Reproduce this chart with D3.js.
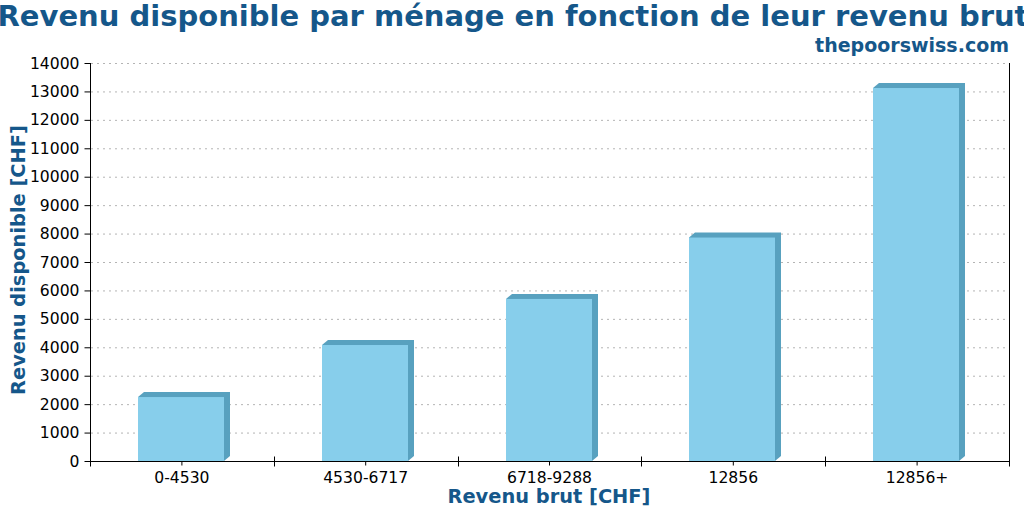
<!DOCTYPE html>
<html>
<head>
<meta charset="utf-8">
<script src="https://cdn.jsdelivr.net/npm/d3@7"></script>
<style>
  body { margin: 0; background: #fff; }
  svg { display: block; font-family: 'DejaVu Sans', sans-serif; }
  .grid line { stroke: #b4b4b4; stroke-dasharray: 2,4; }
  .axis text { font-family: 'DejaVu Sans', sans-serif; font-size: 15.6px; fill: #000; }
  .axis path, .axis line { stroke: #000; }
</style>
</head>
<body>
<svg id="chart" width="1024" height="512"></svg>
<script>
const categories = ['0-4530', '4530-6717', '6718-9288', '12856', '12856+'];
const values = [2250, 4080, 5700, 7860, 13120];
const yTicks = d3.range(0, 14001, 1000);

const svg = d3.select('#chart');
const plotLeft = 90, plotRight = 1009, plotTop = 63, plotBottom = 461;
const depthX = 6, depthY = 5;

const x = d3.scaleBand().domain(categories).range([plotLeft, plotRight]);
const y = d3.scaleLinear().domain([0, 14000]).range([plotBottom, plotTop]);

// grid
svg.append('g')
  .attr('class', 'grid')
  .selectAll('line')
  .data(yTicks.filter(d => d > 0))
  .join('line')
  .attr('x1', plotLeft + 1)
  .attr('x2', plotRight - 1)
  .attr('y1', d => y(d) + 0.5)
  .attr('y2', d => y(d) + 0.5);

// bars
const bw = x.bandwidth() * 0.5;
const bars = svg.append('g').selectAll('g').data(values).join('g');
bars.each(function(v, i) {
  const g = d3.select(this);
  const x0 = Math.round(x(categories[i]) + (x.bandwidth() - bw) / 2 + 2);
  const x1 = x0 + Math.round(bw) - depthX;
  const yt = y(v), yb = y(0);
  g.append('path')
    .attr('fill', '#58a1bf')
    .attr('d', `M${x0},${yt}L${x0 + depthX},${yt - depthY}L${x1 + depthX},${yt - depthY}L${x1 + depthX},${yb - depthY}L${x1},${yb}Z`);
  g.append('rect')
    .attr('fill', '#87ceeb')
    .attr('x', x0)
    .attr('y', yt)
    .attr('width', x1 - x0)
    .attr('height', yb - yt);
});

// y axis
svg.append('g')
  .attr('class', 'axis')
  .attr('transform', `translate(${plotLeft + 0.5},0)`)
  .call(d3.axisLeft(y).tickValues(yTicks).tickSize(6).tickPadding(5).tickFormat(d3.format('d')))
  .call(g => g.select('.domain').remove());

// spines
svg.append('line').attr('x1', plotLeft + 0.5).attr('x2', plotLeft + 0.5).attr('y1', plotTop).attr('y2', plotBottom + 5).attr('stroke', '#000');
svg.append('line').attr('x1', plotRight + 0.5).attr('x2', plotRight + 0.5).attr('y1', plotTop).attr('y2', plotBottom + 5).attr('stroke', '#000');

// x axis
const xAxis = svg.append('g')
  .attr('class', 'axis')
  .attr('transform', `translate(0,${plotBottom + 0.5})`)
  .call(d3.axisBottom(x).tickSize(4).tickPadding(6).tickSizeOuter(0));
xAxis.select('.domain').attr('d', `M${plotLeft},0H${plotRight + 1}`);
xAxis.selectAll('.boundary')
  .data(d3.range(categories.length + 1))
  .join('line')
  .attr('x1', i => Math.round(plotLeft + i * x.step()) + 0.5)
  .attr('x2', i => Math.round(plotLeft + i * x.step()) + 0.5)
  .attr('y1', -5)
  .attr('y2', 5)
  .attr('stroke', '#000');

// titles
svg.append('text')
  .text('Revenu disponible par ménage en fonction de leur revenu brut')
  .attr('x', 513).attr('y', 26)
  .attr('text-anchor', 'middle')
  .attr('font-size', 29).attr('font-weight', 'bold').attr('fill', '#15578a');

svg.append('text')
  .text('thepoorswiss.com')
  .attr('x', 1009).attr('y', 52)
  .attr('text-anchor', 'end')
  .attr('font-size', 19).attr('font-weight', 'bold').attr('fill', '#15578a');

svg.append('text')
  .text('Revenu brut [CHF]')
  .attr('x', 549).attr('y', 503)
  .attr('text-anchor', 'middle')
  .attr('font-size', 19.4).attr('font-weight', 'bold').attr('fill', '#15578a');

svg.append('text')
  .text('Revenu disponible [CHF]')
  .attr('transform', 'translate(25,260) rotate(-90)')
  .attr('text-anchor', 'middle')
  .attr('font-size', 19.4).attr('font-weight', 'bold').attr('fill', '#15578a');
</script>
</body>
</html>
